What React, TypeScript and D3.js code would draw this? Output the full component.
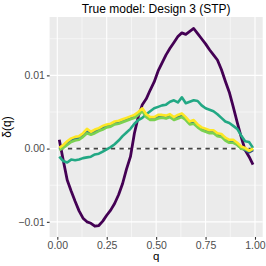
import { useEffect, useRef } from 'react';
import * as d3 from 'd3';

const qs = [
  0.01, 0.03, 0.05, 0.07, 0.09, 0.11, 0.13, 0.15, 0.17, 0.19,
  0.21, 0.23, 0.25, 0.27, 0.29, 0.31, 0.33, 0.35, 0.37, 0.39,
  0.41, 0.43, 0.45, 0.47, 0.49, 0.51, 0.53, 0.55, 0.57, 0.59,
  0.61, 0.63, 0.65, 0.67, 0.69, 0.71, 0.73, 0.75, 0.77, 0.79,
  0.81, 0.83, 0.85, 0.87, 0.89, 0.91, 0.93, 0.95, 0.97, 0.99,
];

const purple = [
  0.0012, -0.0016, -0.0043, -0.0058, -0.0072, -0.0085, -0.0095, -0.0100, -0.0102, -0.0106,
  -0.0105, -0.0099, -0.0091, -0.0084, -0.0075, -0.0063, -0.0048, -0.0028, -0.0011, 0.0021,
  0.0044, 0.0060, 0.0068, 0.0080, 0.0091, 0.0106, 0.0117, 0.0128, 0.0137, 0.0145,
  0.0153, 0.0158, 0.0156, 0.0160, 0.0164, 0.0157, 0.0150, 0.0143, 0.0135, 0.0128,
  0.0121, 0.0108, 0.0092, 0.0077, 0.0057, 0.0036, 0.0016, -0.0002, -0.0011, -0.0022,
];

const indigo = [
  -0.0001, 0.0003, 0.0007, 0.0011, 0.0012, 0.0014, 0.0018, 0.0024, 0.0021, 0.0023,
  0.0026, 0.0028, 0.0031, 0.0032, 0.0035, 0.0036, 0.0038, 0.0040, 0.0042, 0.0044,
  0.0048, 0.0053, 0.0045, 0.0041, 0.0041, 0.0043, 0.0044, 0.0043, 0.0045, 0.0041,
  0.0043, 0.0045, 0.0041, 0.0035, 0.0036, 0.0031, 0.0027, 0.0025, 0.0023, 0.0023,
  0.0019, 0.0018, 0.0013, 0.0010, 0.0010, 0.0006, 0.0001, -0.0002, -0.0005, -0.0002,
];

const blue = [
  0.0000, 0.0003, 0.0008, 0.0012, 0.0013, 0.0015, 0.0019, 0.0024, 0.0021, 0.0024,
  0.0026, 0.0029, 0.0031, 0.0033, 0.0035, 0.0037, 0.0038, 0.0040, 0.0043, 0.0044,
  0.0048, 0.0053, 0.0045, 0.0042, 0.0041, 0.0044, 0.0044, 0.0043, 0.0045, 0.0042,
  0.0044, 0.0046, 0.0041, 0.0036, 0.0037, 0.0031, 0.0027, 0.0025, 0.0024, 0.0023,
  0.0020, 0.0018, 0.0014, 0.0010, 0.0010, 0.0006, 0.0001, -0.0001, -0.0004, -0.0001,
];

const teal = [
  -0.0011, -0.0017, -0.0019, -0.0015, -0.0016, -0.0015, -0.0013, -0.0012, -0.0011, -0.0008,
  -0.0007, -0.0004, -0.0001, 0.0002, 0.0006, 0.0011, 0.0017, 0.0022, 0.0027, 0.0034,
  0.0039, 0.0042, 0.0047, 0.0051, 0.0055, 0.0057, 0.0059, 0.0060, 0.0064, 0.0066,
  0.0063, 0.0070, 0.0062, 0.0064, 0.0066, 0.0065, 0.0059, 0.0055, 0.0053, 0.0051,
  0.0047, 0.0042, 0.0037, 0.0035, 0.0031, 0.0027, 0.0018, 0.0010, 0.0009, 0.0001,
];

const green = [
  -0.0002, 0.0001, 0.0005, 0.0009, 0.0011, 0.0012, 0.0016, 0.0021, 0.0019, 0.0021,
  0.0024, 0.0026, 0.0029, 0.0030, 0.0033, 0.0034, 0.0036, 0.0038, 0.0040, 0.0042,
  0.0046, 0.0051, 0.0043, 0.0039, 0.0039, 0.0041, 0.0042, 0.0041, 0.0043, 0.0039,
  0.0041, 0.0043, 0.0039, 0.0033, 0.0034, 0.0029, 0.0025, 0.0023, 0.0021, 0.0021,
  0.0017, 0.0016, 0.0011, 0.0008, 0.0008, 0.0005, 0.0000, -0.0001, -0.0003, 0.0000,
];

const yellow = [
  0.0001, 0.0005, 0.0010, 0.0014, 0.0016, 0.0017, 0.0021, 0.0027, 0.0023, 0.0026,
  0.0028, 0.0031, 0.0033, 0.0034, 0.0037, 0.0038, 0.0040, 0.0042, 0.0044, 0.0046,
  0.0050, 0.0055, 0.0047, 0.0043, 0.0043, 0.0046, 0.0046, 0.0045, 0.0047, 0.0043,
  0.0046, 0.0048, 0.0043, 0.0037, 0.0039, 0.0033, 0.0029, 0.0027, 0.0025, 0.0025,
  0.0021, 0.0020, 0.0015, 0.0012, 0.0012, 0.0008, 0.0003, 0.0001, -0.0003, 0.0000,
];

const seriesValues = [purple, indigo, blue, teal, green, yellow];
const seriesColors = ['#440154', '#414487', '#2A788E', '#22A884', '#7AD151', '#FDE725'];

const xTicks = [0, 0.25, 0.5, 0.75, 1];
const xMinor = [0.125, 0.375, 0.625, 0.875];
const yTicks = [-0.01, 0, 0.01];
const yMinor = [-0.005, 0.005, 0.015];

const W = 266;
const H = 266;
const FONT = '"Liberation Sans", Arial, sans-serif';

const App = () => {
  const svgRef = useRef<SVGSVGElement>(null);

  useEffect(() => {
    if (!svgRef.current) return;
    const svg = d3.select(svgRef.current);
    svg.selectAll('*').remove();

    const left = 49.6, right = 262.7, top = 17, bottom = 237;

    const x = d3.scaleLinear().domain([-0.039, 1.039]).range([left, right]);
    const y = d3.scaleLinear().domain([-0.01207, 0.01797]).range([bottom, top]);

    svg.append('rect')
      .attr('x', left).attr('y', top)
      .attr('width', right - left).attr('height', bottom - top)
      .attr('fill', '#EBEBEB');

    const grid = svg.append('g');
    grid.selectAll('.ymin').data(yMinor).enter().append('line')
      .attr('x1', left).attr('x2', right)
      .attr('y1', d => y(d)).attr('y2', d => y(d))
      .attr('stroke', '#fff').attr('stroke-width', 0.55);
    grid.selectAll('.xmin').data(xMinor).enter().append('line')
      .attr('y1', top).attr('y2', bottom)
      .attr('x1', d => x(d)).attr('x2', d => x(d))
      .attr('stroke', '#fff').attr('stroke-width', 0.55);
    grid.selectAll('.ymaj').data(yTicks).enter().append('line')
      .attr('x1', left).attr('x2', right)
      .attr('y1', d => y(d)).attr('y2', d => y(d))
      .attr('stroke', '#fff').attr('stroke-width', 1.1);
    grid.selectAll('.xmaj').data(xTicks).enter().append('line')
      .attr('y1', top).attr('y2', bottom)
      .attr('x1', d => x(d)).attr('x2', d => x(d))
      .attr('stroke', '#fff').attr('stroke-width', 1.1);

    // zero reference
    svg.append('line')
      .attr('x1', x(qs[0])).attr('x2', x(qs[qs.length - 1]))
      .attr('y1', y(0)).attr('y2', y(0))
      .attr('stroke', '#444').attr('stroke-width', 1.6)
      .attr('stroke-dasharray', '4.3,4.3');

    const line = d3.line<number>()
      .x((_, i) => x(qs[i]))
      .y(d => y(d));

    seriesValues.forEach((vals, i) => {
      svg.append('path')
        .attr('d', line(vals))
        .attr('fill', 'none')
        .attr('stroke', seriesColors[i])
        .attr('stroke-width', i === 0 ? 2.8 : 2.6)
        .attr('stroke-linejoin', 'round');
    });

    // axes
    const xAxis = svg.append('g').attr('transform', `translate(0,${bottom})`)
      .call(d3.axisBottom(x).tickValues(xTicks).tickFormat(d3.format('.2f')).tickSize(2.7).tickPadding(1.5));
    const yAxis = svg.append('g').attr('transform', `translate(${left},0)`)
      .call(d3.axisLeft(y).tickValues(yTicks).tickFormat(d3.format('.2f')).tickSize(2.7).tickPadding(2));
    [xAxis, yAxis].forEach(a => {
      a.select('.domain').remove();
      a.selectAll('line').attr('stroke', '#333').attr('stroke-width', 1.1);
      a.selectAll('text').attr('fill', '#4D4D4D').attr('font-size', 10.5).attr('font-family', FONT);
    });

    svg.append('text')
      .attr('x', (left + right) / 2).attr('y', 12.5)
      .attr('text-anchor', 'middle')
      .attr('font-family', FONT).attr('font-size', 12)
      .text('True model: Design 3 (STP)');

    svg.append('text')
      .attr('x', (left + right) / 2).attr('y', 259.5)
      .attr('text-anchor', 'middle')
      .attr('font-family', FONT).attr('font-size', 11.5)
      .text('q');

    svg.append('text')
      .attr('transform', `translate(11,${(top + bottom) / 2}) rotate(-90)`)
      .attr('text-anchor', 'middle')
      .attr('font-family', FONT).attr('font-size', 12)
      .text('δ(q)');
  }, []);

  return (
    <svg ref={svgRef} width={W} height={H}
      style={{ position: 'absolute', left: 0, top: 0, background: '#fff' }} />
  );
};

export default App;
